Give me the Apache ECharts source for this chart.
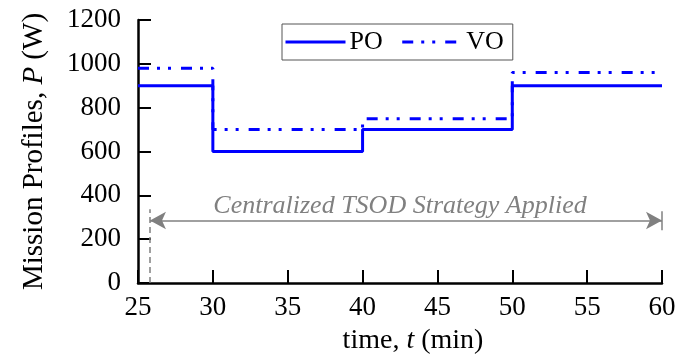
<!DOCTYPE html>
<html>
<head>
<meta charset="utf-8">
<script src="https://cdn.jsdelivr.net/npm/echarts@6/dist/echarts.min.js"></script>
<style>
  html, body { margin: 0; padding: 0; background: #fff; }
  #chart { width: 684px; height: 360px; }
</style>
</head>
<body>
<div id="chart"></div>
<script>
// Mission profiles (step changes at the segment boundaries, minutes)
const stepTimes = [25, 30, 40, 50, 60];
const poValues = [900, 600, 700, 900, 900];
const voValues = [980, 700, 750, 960, 960];
const yTicks = [0, 200, 400, 600, 800, 1000, 1200];
const xTicks = [25, 30, 35, 40, 45, 50, 55, 60];

// Strategy window annotation
const strategyStart = 25.8;
const strategyEnd = 60;
const strategyLevel = 285;
const strategyText = 'Centralized TSOD Strategy Applied';

const serif = "'Liberation Serif', 'Times New Roman', serif";
const blue = '#0000ff';
const grey = '#808080';
const labelSize = 27;

const toPairs = (vals) => stepTimes.map((t, i) => [t, vals[i]]);

const chart = echarts.init(document.getElementById('chart'));
chart.setOption({
  animation: false,
  backgroundColor: '#ffffff',
  grid: { left: 138, right: 22, top: 20, bottom: 76, containLabel: false },
  legend: {
    left: 282, top: 24,
    padding: [5, 9, 5, 2],
    itemGap: 18,
    itemWidth: 60, itemHeight: 14,
    borderColor: '#555', borderWidth: 1,
    itemStyle: { opacity: 0 },
    lineStyle: { width: 3 },
    textStyle: { fontFamily: serif, fontSize: 26, color: '#000', padding: [0, 0, 0, -1] },
    data: ['PO', 'VO']
  },
  xAxis: {
    type: 'value',
    min: xTicks[0], max: xTicks[xTicks.length - 1], interval: 5,
    name: 'time, {i|t} (min)',
    nameLocation: 'middle', nameGap: 44,
    nameTextStyle: {
      fontFamily: serif, fontSize: 28, color: '#000',
      padding: [0, 0, 0, 26],
      rich: { i: { fontFamily: serif, fontSize: 28, fontStyle: 'italic', color: '#000' } }
    },
    axisLine: { show: true, lineStyle: { color: '#000', width: 2.5 } },
    axisTick: { show: true, inside: true, length: 13, lineStyle: { color: '#000', width: 2 } },
    axisLabel: { fontFamily: serif, fontSize: labelSize, color: '#000', margin: 11 },
    splitLine: { show: false }
  },
  yAxis: {
    type: 'value',
    min: yTicks[0], max: yTicks[yTicks.length - 1], interval: 200,
    name: 'Mission Profiles, {i|P} (W)',
    nameLocation: 'middle', nameGap: 89, nameRotate: 90,
    nameTextStyle: {
      fontFamily: serif, fontSize: 29, color: '#000',
      rich: { i: { fontFamily: serif, fontSize: 29, fontStyle: 'italic', color: '#000' } }
    },
    axisLine: { show: true, lineStyle: { color: '#000', width: 2.5 } },
    axisTick: { show: true, inside: true, length: 13, lineStyle: { color: '#000', width: 2 } },
    axisLabel: {
      fontFamily: serif, fontSize: labelSize, color: '#000', margin: 17,
      formatter: (v) => String(v)
    },
    splitLine: { show: false }
  },
  series: [
    {
      name: 'PO',
      type: 'line',
      step: 'end',
      symbol: 'none',
      data: toPairs(poValues),
      lineStyle: { color: blue, width: 3, type: 'solid', cap: 'butt' },
      itemStyle: { color: blue },
      z: 3,
      markLine: {
        silent: true,
        animation: false,
        symbol: ['arrow', 'arrow'],
        symbolSize: [13, 16],
        label: { show: false },
        lineStyle: { color: grey, width: 1.5, type: 'solid' },
        data: [
          [
            {
              coord: [strategyStart, strategyLevel],
              label: {
                show: true,
                position: 'insideMiddleTop',
                distance: 1,
                padding: [0, 12, 0, 0],
                formatter: strategyText,
                fontFamily: serif, fontSize: 26, fontStyle: 'italic', color: grey
              }
            },
            { coord: [strategyEnd, strategyLevel] }
          ],
          [
            { coord: [strategyStart, 0], symbol: 'none', lineStyle: { type: [6, 4], color: grey, width: 1.5 } },
            { coord: [strategyStart, 336], symbol: 'none' }
          ],
          [
            { coord: [strategyEnd, 241], symbol: 'none', lineStyle: { type: 'solid', color: grey, width: 1.5 } },
            { coord: [strategyEnd, 327], symbol: 'none' }
          ]
        ]
      }
    },
    {
      name: 'VO',
      type: 'line',
      step: 'end',
      symbol: 'none',
      data: toPairs(voValues),
      lineStyle: { color: blue, width: 3, type: [11, 8, 3, 8, 3, 10], cap: 'butt' },
      itemStyle: { color: blue },
      z: 2
    }
  ]
});
</script>
</body>
</html>
